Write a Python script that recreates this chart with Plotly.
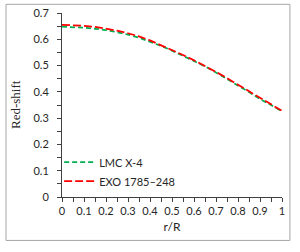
import plotly.graph_objects as go

r_over_R = [0.0, 0.05, 0.1, 0.15, 0.2, 0.25, 0.3, 0.35, 0.4, 0.45, 0.5,
            0.55, 0.6, 0.65, 0.7, 0.75, 0.8, 0.85, 0.9, 0.95, 1.0]
lmc_x4 = [0.648, 0.647, 0.644, 0.640, 0.635, 0.627, 0.618, 0.606, 0.592, 0.575, 0.557,
          0.538, 0.518, 0.497, 0.474, 0.450, 0.425, 0.399, 0.373, 0.348, 0.326]
exo_1785 = [0.655, 0.654, 0.651, 0.647, 0.641, 0.633, 0.623, 0.611, 0.596, 0.578, 0.559,
            0.540, 0.520, 0.499, 0.476, 0.452, 0.427, 0.401, 0.375, 0.350, 0.328]

x_ticks = [0, 0.1, 0.2, 0.3, 0.4, 0.5, 0.6, 0.7, 0.8, 0.9, 1]
x_labels = ["0", "0.1", "0.2", "0.3", "0.4", "0.5", "0.6", "0.7", "0.8", "0.9", "1"]
y_ticks = [0, 0.1, 0.2, 0.3, 0.4, 0.5, 0.6, 0.7]
y_labels = ["0", "0.1", "0.2", "0.3", "0.4", "0.5", "0.6", "0.7"]
y_title = "Red-shift"

fig = go.Figure()
fig.add_trace(go.Scatter(x=r_over_R, y=lmc_x4, mode="lines", name="LMC X-4",
                         line=dict(color="#00B050", width=1.75, dash="5px,3px")))
fig.add_trace(go.Scatter(x=r_over_R, y=exo_1785, mode="lines", name="EXO 1785–248",
                         line=dict(color="#FF0000", width=1.75, dash="8px,3px")))

axis_col = "#404040"
tick_font = dict(family="Lato", size=11, color="#262626")
fig.update_xaxes(range=[0, 1], tickvals=x_ticks, ticktext=x_labels, automargin=False,
                 showline=True, linecolor=axis_col, linewidth=1, showgrid=False, zeroline=False,
                 ticks="outside", ticklen=4, tickcolor=axis_col, tickwidth=1,
                 minor=dict(dtick=0.05, ticks="outside", ticklen=4, tickcolor=axis_col),
                 tickfont=tick_font, ticklabelstandoff=0,
                 title=dict(text="r/R", font=dict(family="Lato", size=12, color="#262626"), standoff=6))
fig.update_yaxes(range=[0, 0.7], tickvals=y_ticks, ticktext=y_labels, automargin=False,
                 showline=True, linecolor=axis_col, linewidth=1, showgrid=False, zeroline=False,
                 ticks="outside", ticklen=4, tickcolor=axis_col, tickwidth=1,
                 minor=dict(dtick=0.05, ticks="outside", ticklen=4, tickcolor=axis_col),
                 tickfont=tick_font, ticklabelstandoff=6)

# y-axis title placed as a rotated annotation
fig.add_annotation(text=y_title, xref="paper", yref="paper", x=-0.2136, y=0.5,
                   xanchor="center", yanchor="middle", textangle=-90, showarrow=False,
                   font=dict(family="Liberation Serif", size=13, color="#262626"))

# outer chart border (paper coordinates relative to plot area)
bx0, bx1, by0, by1 = -0.2545, 1.036, -0.236, 1.0473
border = dict(color="#A6A6A6", width=1)
for (xa, ya, xb, yb) in [(bx0, by0, bx1, by0), (bx0, by1, bx1, by1),
                         (bx0, by0, bx0, by1), (bx1, by0, bx1, by1)]:
    fig.add_shape(type="line", xref="paper", yref="paper", x0=xa, y0=ya, x1=xb, y1=yb,
                  line=border)

fig.update_layout(
    width=300, height=252,
    margin=dict(l=62, r=18, t=13, b=55),
    paper_bgcolor="white", plot_bgcolor="white",
    showlegend=True,
    legend=dict(x=-0.013, y=0.007, xanchor="left", yanchor="bottom",
                bgcolor="rgba(0,0,0,0)", itemwidth=30, tracegroupgap=0,
                font=dict(family="Lato", size=11, color="#262626")),
)

fig.write_html("out.html", config={"displayModeBar": False},
               post_script="document.body.style.margin='0';document.body.style.overflow='hidden';")
